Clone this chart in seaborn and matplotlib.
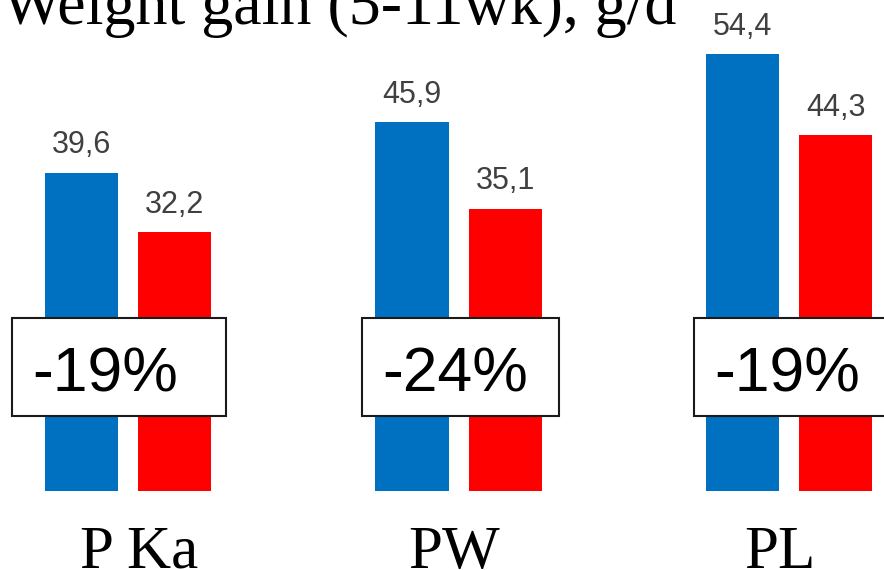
import matplotlib
matplotlib.use("Agg")
import matplotlib.pyplot as plt
from matplotlib.patches import Rectangle
import pandas as pd
import seaborn as sns

# Average daily weight gain (weeks 5-11), g/d, per breed and group
breeds = ["P Ka", "PW", "PL"]
gain_a = [39.6, 45.9, 54.4]
gain_b = [32.2, 35.1, 44.3]
group_names = ["A", "B"]
change_labels = ["-19%", "-24%", "-19%"]
title = "Weight gain (5-11wk), g/d"

colors = ["#0070C0", "#FF0000"]

df = pd.DataFrame({
    "breed": breeds * 2,
    "gain": gain_a + gain_b,
    "group": [group_names[0]] * len(breeds) + [group_names[1]] * len(breeds),
})

sns.set_theme(style="white")
plt.rcParams["font.family"] = ["Liberation Sans", "DejaVu Sans"]

fig = plt.figure(figsize=(8.84, 5.70), dpi=100)
ax = fig.add_axes([0, 0, 1, 1])

sns.barplot(data=df, x="breed", y="gain", hue="group", palette=colors,
            width=0.563, gap=0.215, dodge=True, saturation=1, linewidth=0,
            legend=False, ax=ax)

ax.set_xlim(-0.387, 2.287)
ax.set_ylim(-9.84, 61.15)
ax.axis("off")

# value labels above each bar, decimal comma
for p in ax.patches:
    h = p.get_height()
    if h <= 0:
        continue
    cx = p.get_x() + p.get_width() / 2
    ax.text(cx, h + 2.45, f"{h:.1f}".replace(".", ","), ha="center",
            va="baseline", fontsize=22, color="#404040")

# boxed percentage change for each breed
box_left = [-0.351, -0.292, -0.287]
box_width = [0.648, 0.596, 0.62]
box_bottom, box_top = 9.34, 21.54
for i, lab in enumerate(change_labels):
    x0 = i + box_left[i]
    ax.add_patch(Rectangle((x0, box_bottom), box_width[i], box_top - box_bottom,
                           facecolor="white", edgecolor="#1a1a1a", linewidth=1.5,
                           zorder=3, clip_on=False))
    ax.text(x0 + 0.061, 12.33, lab, ha="left", va="baseline", fontsize=45,
            color="black", zorder=4)

# breed names under the bars
name_shift = [0.035, -0.012, -0.027]
for i, name in enumerate(breeds):
    ax.text(i + name_shift[i], -9.59, name, ha="center", va="baseline",
            fontsize=44, family=["Liberation Serif", "DejaVu Serif"],
            color="black")

fig.text(0.002, 1 - 24 / 570, title, ha="left", va="baseline", fontsize=46,
         family=["Liberation Serif", "DejaVu Serif"], color="black")

fig.savefig("out.png", dpi=100)
